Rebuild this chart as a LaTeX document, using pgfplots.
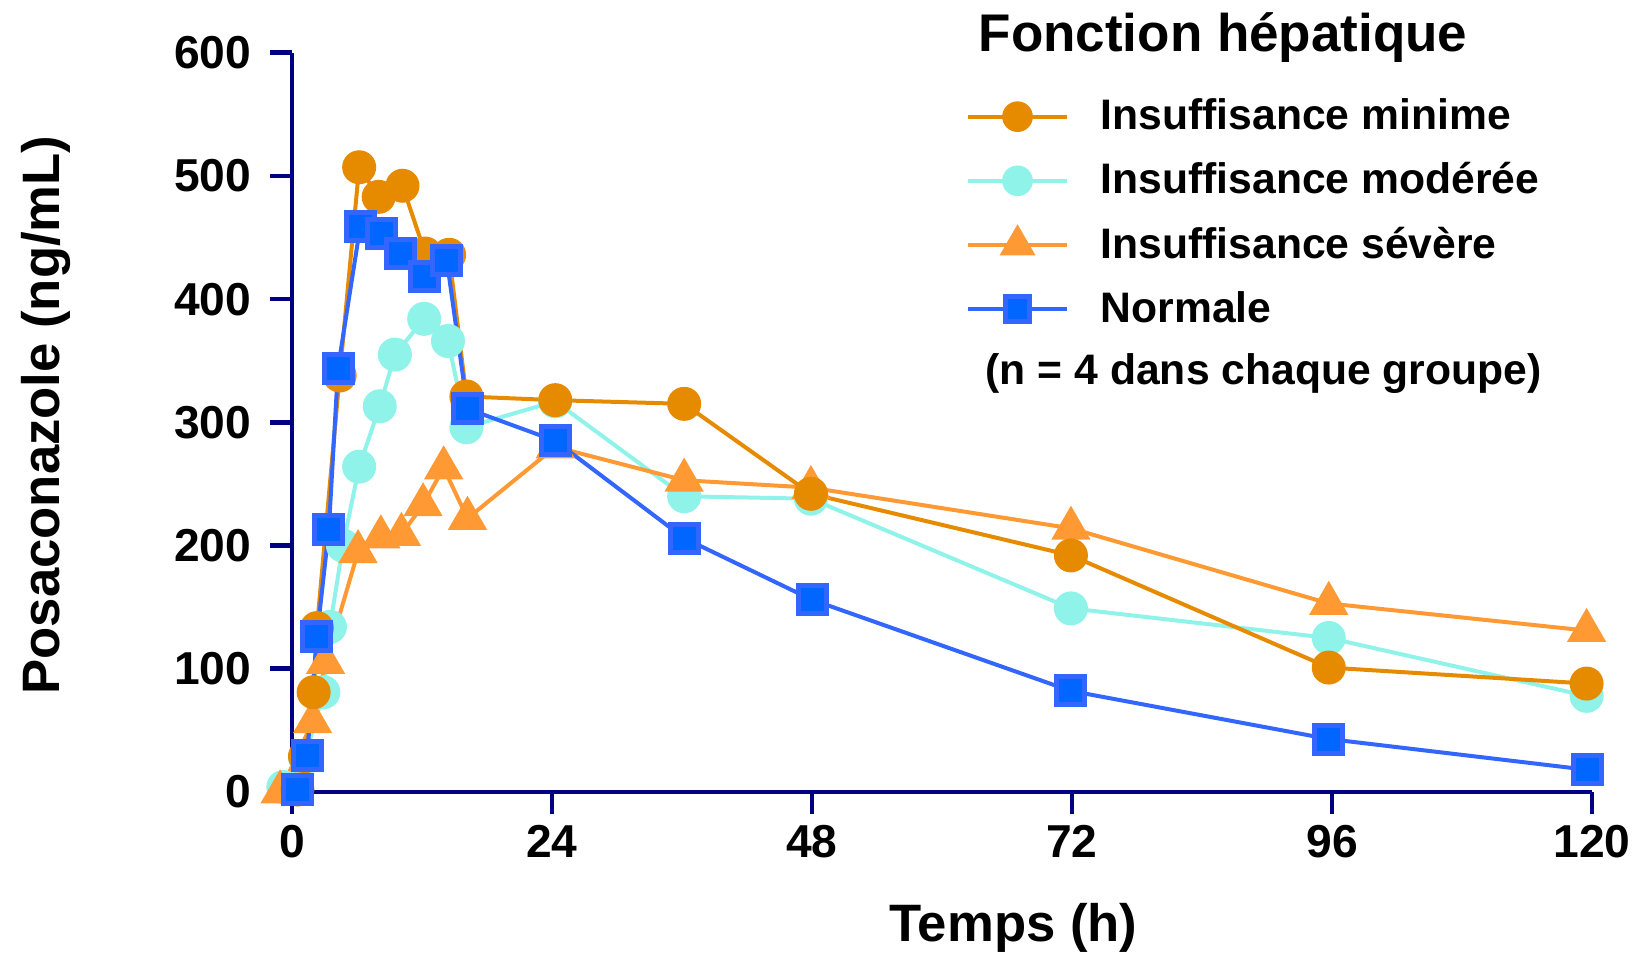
\documentclass[border=0pt]{standalone}
\usepackage{fontspec}
\setmainfont{Liberation Sans}
\usepackage{pgfplots}
\pgfplotsset{compat=1.18}
\definecolor{cMin}{RGB}{230,138,0}
\definecolor{cMod}{RGB}{143,243,233}
\definecolor{cSev}{RGB}{255,153,51}
\definecolor{cNorFill}{RGB}{0,102,255}
\definecolor{cNorLine}{RGB}{51,102,255}
\definecolor{navyax}{RGB}{0,0,130}
\begin{document}
\begin{tikzpicture}
\begin{axis}[
  at={(0,0)}, anchor=south west,
  scale only axis, width=390pt, height=221.8pt,
  xmin=0, xmax=120, ymin=0, ymax=600,
  axis lines=left,
  axis line style={-, line width=1.4pt, draw=navyax},
  xtick={0,24,48,72,96,120},
  ytick={0,100,200,300,400,500,600},
  tick align=outside,
  major tick length=6.5pt,
  tick style={line width=1.4pt, draw=navyax},
  /pgf/number format/assume math mode=true,
  tick label style={font=\fontsize{13.85}{16}\selectfont\bfseries, text=black},
  yticklabel style={anchor=east, inner sep=0pt, xshift=-5.5pt},
  xticklabel style={anchor=north, inner sep=0pt, yshift=-3.3pt},
  clip=false,
  xlabel={Temps (h)}, ylabel={Posaconazole (ng/mL)},
  xlabel style={at={(axis description cs:0.555,-0.2025)}, anchor=base, inner sep=0pt, font=\fontsize{15.8}{18}\selectfont\bfseries},
  ylabel style={at={(axis description cs:-0.1792,0.51)}, anchor=base, inner sep=0pt, font=\fontsize{15.8}{18}\selectfont\bfseries},
  legend image code/.code={\path[draw=none, fill=none] (0pt,-7pt) rectangle (29.7pt,7pt); \draw[mark repeat=2,mark phase=2,#1] plot coordinates {(0pt,0pt) (14.85pt,0pt) (29.7pt,0pt)};},
  legend style={at={(axis description cs:0.5185,0.945)}, anchor=north west, draw=none, fill=none, inner sep=0pt, outer sep=0pt, row sep=5.24pt, column sep=9.5pt, font=\fontsize{12.8}{15}\selectfont\bfseries, nodes={inner sep=0pt}},
  legend cell align=left,
]
% moderate
\addplot[forget plot, color=cMod, line width=1.2pt, mark=*, mark size=4.9pt, mark options={solid, line width=0.4pt, fill=cMod}] coordinates {
(-0.8,4) (1.2,28) (2.9,81) (3.5,134) (4.7,200) (6.2,264) (8.1,313) (9.5,355) (12.2,384) (14.4,366) (16.1,296) (24.3,317) (36.2,240) (47.9,238) (71.9,149) (95.7,125) (119.5,78)};
% severe
\addplot[forget plot, color=cSev, line width=1.2pt, mark=triangle*, mark size=6.4pt, mark options={solid, line width=0.4pt, fill=cSev}] coordinates {
(-1.1,0) (1.9,57) (3.1,105) (6.1,195) (8.2,207) (10.1,209) (12.1,233) (14.0,263) (16.2,222) (24.3,280) (36.2,253) (47.9,247) (71.9,214) (95.7,153) (119.5,131)};
% minimal
\addplot[forget plot, color=cMin, line width=1.2pt, mark=*, mark size=4.9pt, mark options={solid, line width=0.4pt, fill=cMin}] coordinates {
(0.5,2) (1.2,29) (2.0,81) (2.3,133) (4.4,338) (6.2,507) (8.0,483) (10.2,492) (12.3,437) (14.5,436) (16.1,321) (24.3,318) (36.2,315) (47.9,242) (71.9,192) (95.7,101) (119.5,88)};
% normal
\addplot[forget plot, color=cNorLine, line width=1.2pt, mark=square*, mark size=4.2pt, mark options={solid, line width=1.5pt, fill=cNorFill, draw=cNorLine}] coordinates {
(0.55,2) (1.4,30) (2.3,126) (3.4,213) (4.25,344) (6.3,459) (8.3,453) (10.0,437) (12.2,418) (14.3,431) (16.2,311) (24.3,285) (36.2,206) (48.0,156) (71.9,82) (95.7,43) (119.6,18)};

\addlegendimage{color=cMin, line width=1.2pt, mark=*, mark size=4.4pt, mark options={solid, line width=0.4pt, fill=cMin}}
\addlegendentry{Insuffisance minime}
\addlegendimage{color=cMod, line width=1.2pt, mark=*, mark size=4.4pt, mark options={solid, line width=0.4pt, fill=cMod}}
\addlegendentry{Insuffisance modérée}
\addlegendimage{color=cSev, line width=1.2pt, mark=triangle*, mark size=5.8pt, mark options={solid, line width=0.4pt, fill=cSev}}
\addlegendentry{Insuffisance sévère}
\addlegendimage{color=cNorLine, line width=1.2pt, mark=square*, mark size=3.7pt, mark options={solid, line width=1.5pt, fill=cNorFill, draw=cNorLine}}
\addlegendentry{Normale}

\node[anchor=base west, inner sep=0pt, font=\fontsize{15.9}{18}\selectfont\bfseries] at (axis description cs:0.5277,1.002) {Fonction hépatique};
\node[anchor=base west, inner sep=0pt, font=\fontsize{12.8}{15}\selectfont\bfseries] at (axis description cs:0.5331,0.5505) {(n = 4 dans chaque groupe)};
\end{axis}
\pgfresetboundingbox
\path (-87.6pt,-48.6pt) rectangle (402pt,237.6pt);
\end{tikzpicture}
\end{document}
